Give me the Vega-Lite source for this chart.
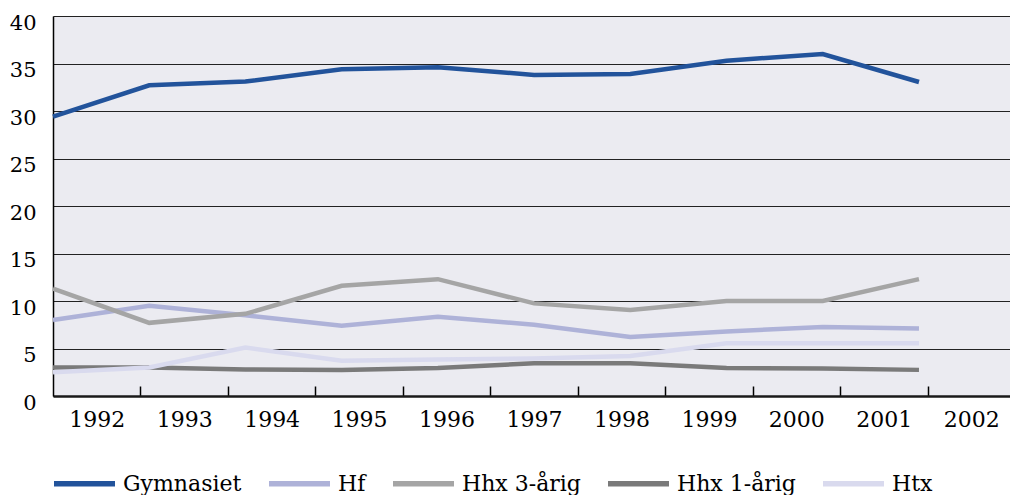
{
  "$schema": "https://vega.github.io/schema/vega-lite/v6.json",
  "width": 957,
  "height": 380,
  "autosize": {"type": "none"},
  "padding": {"left": 53, "top": 16, "right": 0, "bottom": 99},
  "background": "white",
  "config": {
    "view": {"fill": "#ebebf1", "stroke": null},
    "font": "DejaVu Serif",
    "axis": {"labelFont": "DejaVu Serif"},
    "legend": {"labelFont": "DejaVu Serif"}
  },
  "data": {"values": [
    {"year": 1992, "series": "Gymnasiet", "value": 29.4},
    {"year": 1993, "series": "Gymnasiet", "value": 32.7},
    {"year": 1994, "series": "Gymnasiet", "value": 33.1},
    {"year": 1995, "series": "Gymnasiet", "value": 34.4},
    {"year": 1996, "series": "Gymnasiet", "value": 34.6},
    {"year": 1997, "series": "Gymnasiet", "value": 33.8},
    {"year": 1998, "series": "Gymnasiet", "value": 33.9},
    {"year": 1999, "series": "Gymnasiet", "value": 35.3},
    {"year": 2000, "series": "Gymnasiet", "value": 36.0},
    {"year": 2001, "series": "Gymnasiet", "value": 33.05},
    {"year": 1992, "series": "Hf", "value": 8.0},
    {"year": 1993, "series": "Hf", "value": 9.5},
    {"year": 1994, "series": "Hf", "value": 8.5},
    {"year": 1995, "series": "Hf", "value": 7.4},
    {"year": 1996, "series": "Hf", "value": 8.35},
    {"year": 1997, "series": "Hf", "value": 7.5},
    {"year": 1998, "series": "Hf", "value": 6.2},
    {"year": 1999, "series": "Hf", "value": 6.8},
    {"year": 2000, "series": "Hf", "value": 7.25},
    {"year": 2001, "series": "Hf", "value": 7.1},
    {"year": 1992, "series": "Hhx 3-årig", "value": 11.3},
    {"year": 1993, "series": "Hhx 3-årig", "value": 7.7},
    {"year": 1994, "series": "Hhx 3-årig", "value": 8.65},
    {"year": 1995, "series": "Hhx 3-årig", "value": 11.6},
    {"year": 1996, "series": "Hhx 3-årig", "value": 12.3},
    {"year": 1997, "series": "Hhx 3-årig", "value": 9.75},
    {"year": 1998, "series": "Hhx 3-årig", "value": 9.05},
    {"year": 1999, "series": "Hhx 3-årig", "value": 10.0},
    {"year": 2000, "series": "Hhx 3-årig", "value": 10.0},
    {"year": 2001, "series": "Hhx 3-årig", "value": 12.3},
    {"year": 1992, "series": "Hhx 1-årig", "value": 3.0},
    {"year": 1993, "series": "Hhx 1-årig", "value": 3.0},
    {"year": 1994, "series": "Hhx 1-årig", "value": 2.8},
    {"year": 1995, "series": "Hhx 1-årig", "value": 2.75},
    {"year": 1996, "series": "Hhx 1-årig", "value": 2.95},
    {"year": 1997, "series": "Hhx 1-årig", "value": 3.45},
    {"year": 1998, "series": "Hhx 1-årig", "value": 3.45},
    {"year": 1999, "series": "Hhx 1-årig", "value": 2.95},
    {"year": 2000, "series": "Hhx 1-årig", "value": 2.9},
    {"year": 2001, "series": "Hhx 1-årig", "value": 2.75},
    {"year": 1992, "series": "Htx", "value": 2.5},
    {"year": 1993, "series": "Htx", "value": 3.0},
    {"year": 1994, "series": "Htx", "value": 5.1},
    {"year": 1995, "series": "Htx", "value": 3.7},
    {"year": 1996, "series": "Htx", "value": 3.85},
    {"year": 1997, "series": "Htx", "value": 3.95},
    {"year": 1998, "series": "Htx", "value": 4.2},
    {"year": 1999, "series": "Htx", "value": 5.55},
    {"year": 2000, "series": "Htx", "value": 5.55},
    {"year": 2001, "series": "Htx", "value": 5.55}
  ]},
  "layer": [
    {
      "mark": {"type": "point", "opacity": 0},
      "encoding": {
        "x": {
          "field": "year", "type": "quantitative",
          "scale": {"domain": [1991.5, 2002.443], "nice": false, "zero": false},
          "axis": {
            "values": [1992, 1993, 1994, 1995, 1996, 1997, 1998, 1999, 2000, 2001, 2002],
            "format": "d", "title": null, "grid": false,
            "tickOffset": 43.7, "labelOffset": -43.7, "labelFlush": false, "labelOverlap": false,
            "tickSize": -10, "tickColor": "black", "tickWidth": 1.5,
            "domainColor": "#1a1a1a", "domainWidth": 2.5,
            "labelFont": "DejaVu Serif",
            "labelFontSize": 22, "labelColor": "black", "labelPadding": 23
          }
        }
      }
    },
    {
      "mark": {"type": "line", "strokeWidth": 4.5},
      "encoding": {
        "x": {
          "field": "year", "type": "quantitative",
          "scale": {"domain": [1992, 2001.946], "nice": false, "zero": false},
          "axis": null
        },
        "y": {
          "field": "value", "type": "quantitative",
          "scale": {"domain": [0, 40], "nice": false},
          "axis": {
            "values": [0, 5, 10, 15, 20, 25, 30, 35, 40],
            "title": null, "grid": true, "gridColor": "#222222", "gridWidth": 1,
            "ticks": false, "domainColor": "black", "domainWidth": 1.5,
            "labelFont": "DejaVu Serif",
            "labelFontSize": 21, "labelColor": "black", "labelPadding": 17, "labelOffset": 7
          }
        },
        "color": {
          "field": "series", "type": "nominal",
          "scale": {
            "domain": ["Gymnasiet", "Hf", "Hhx 3-årig", "Hhx 1-årig", "Htx"],
            "range": ["#22539b", "#aeb2d8", "#a5a5a5", "#7a7a7a", "#d9daee"]
          },
          "legend": {
            "title": null, "orient": "none", "legendX": -2, "legendY": 434,
            "direction": "horizontal", "columns": 5, "columnPadding": 16,
            "symbolType": "stroke", "symbolSize": 3721, "symbolStrokeWidth": 5.5,
            "labelFont": "DejaVu Serif",
            "labelFontSize": 22, "labelColor": "black", "labelOffset": 5, "labelLimit": 300
          }
        }
      }
    }
  ],
  "resolve": {"scale": {"x": "independent"}}
}
